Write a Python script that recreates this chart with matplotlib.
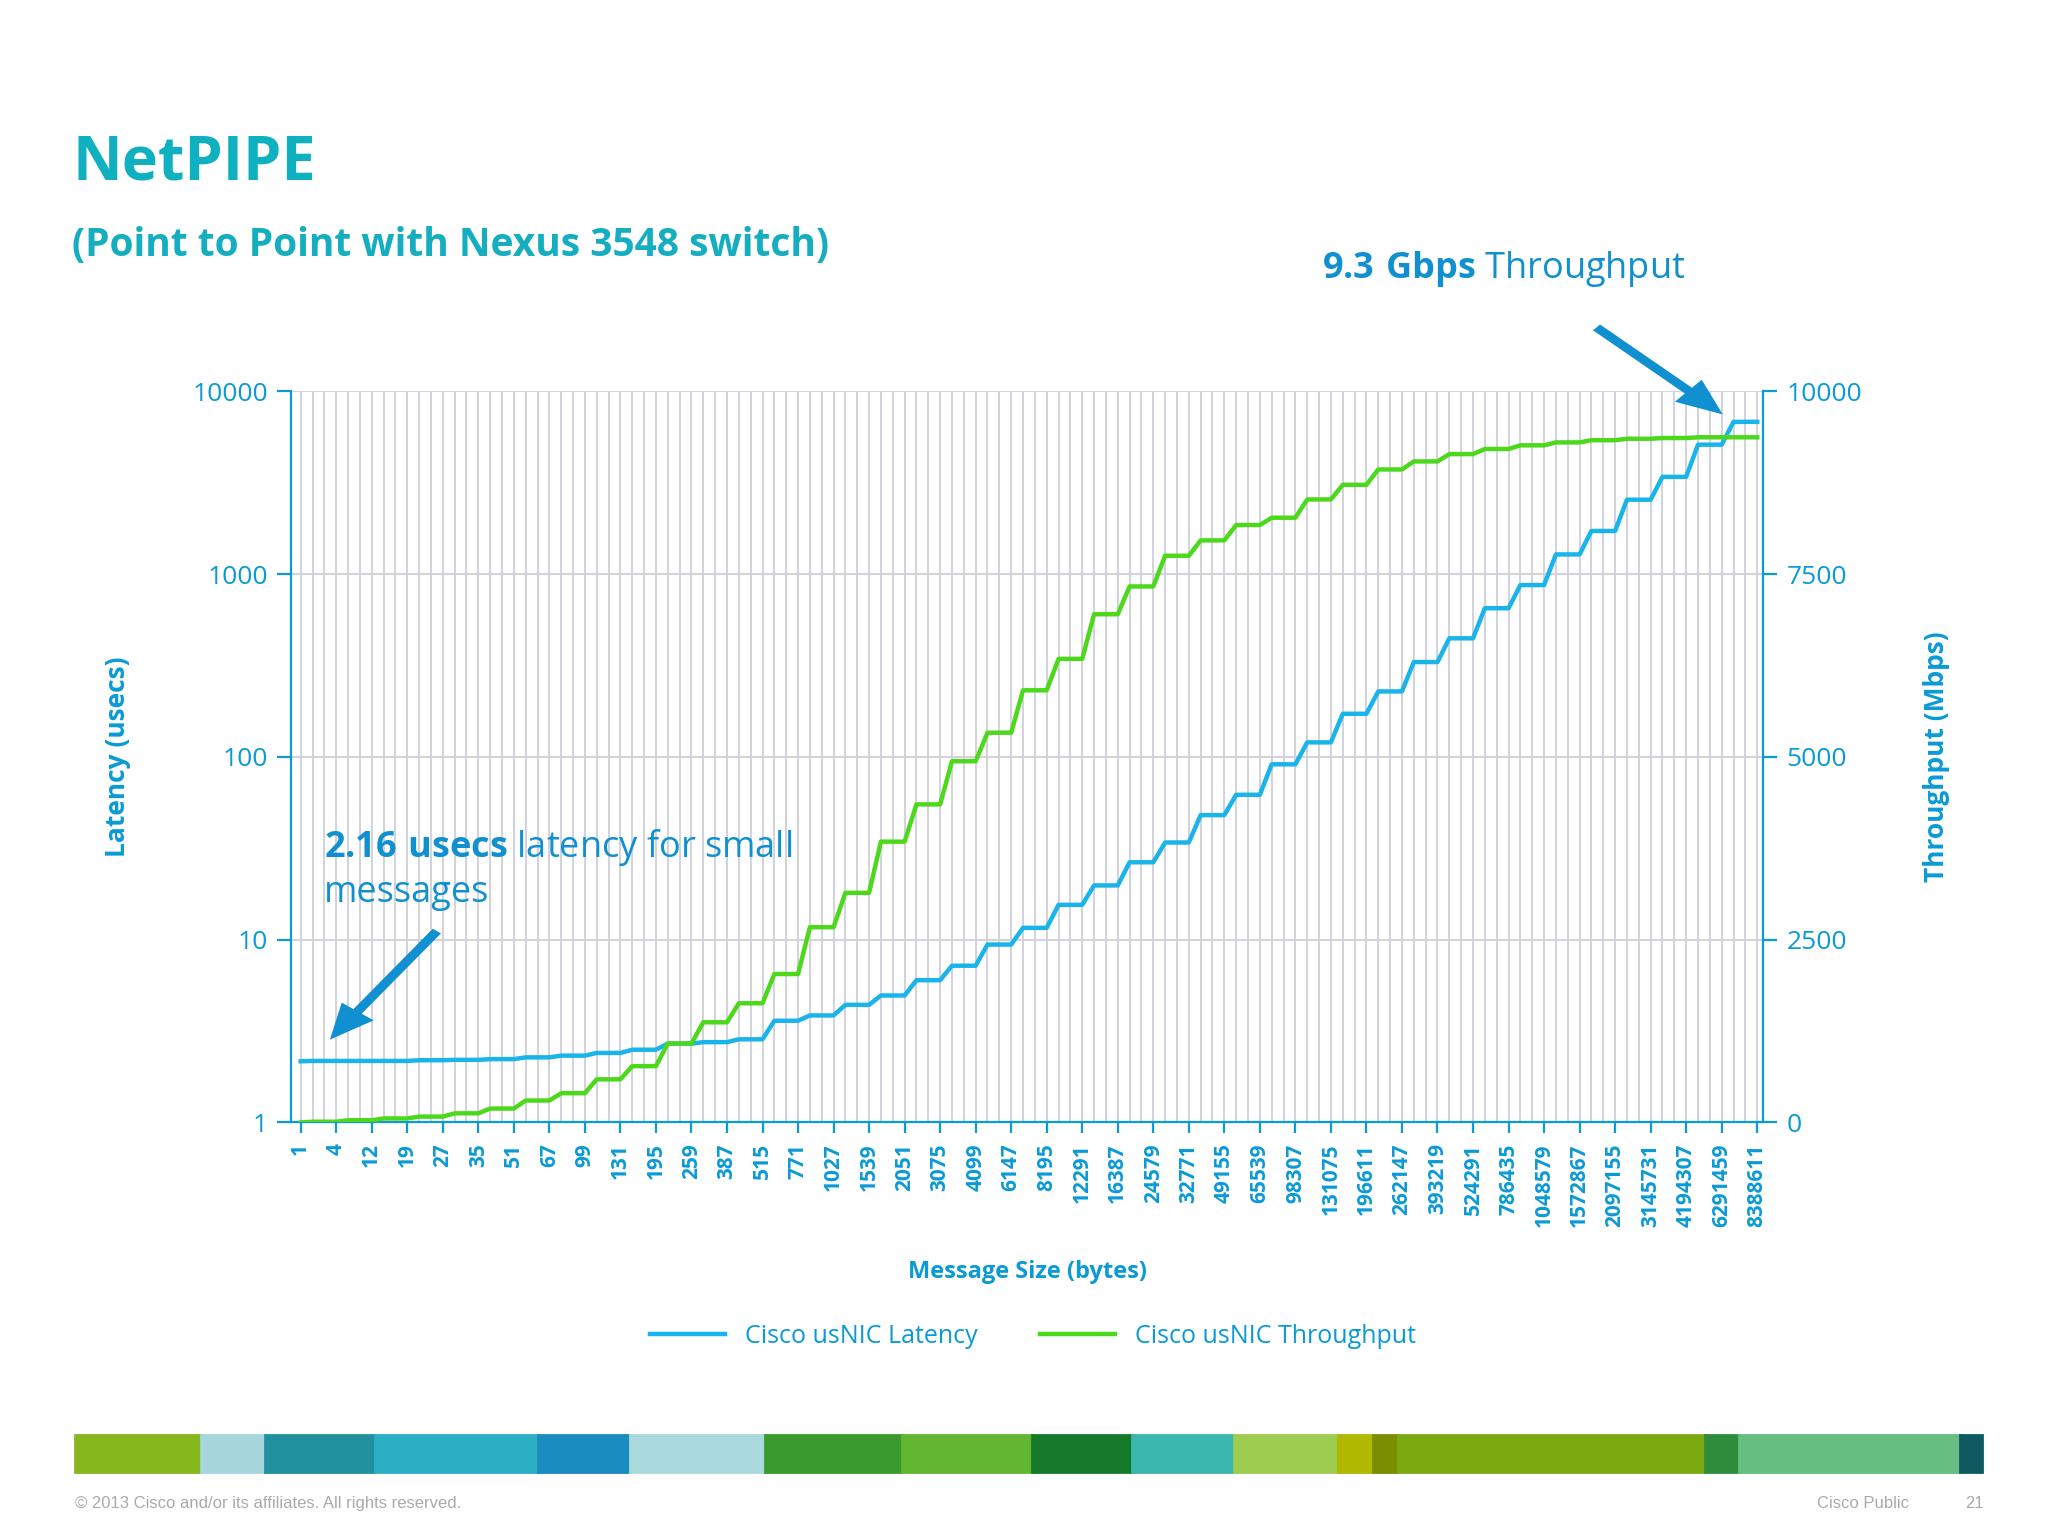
import matplotlib
matplotlib.use("Agg")
import matplotlib.pyplot as plt
import numpy as np
from matplotlib.patches import Rectangle

plt.rcParams['font.family'] = ['Open Sans', 'DejaVu Sans']
plt.rcParams['mathtext.fontset'] = 'custom'
plt.rcParams['mathtext.bf'] = 'Open Sans:bold'
plt.rcParams['mathtext.rm'] = 'Open Sans'

labels = ["1","4","12","19","27","35","51","67","99","131","195","259","387","515","771","1027",
          "1539","2051","3075","4099","6147","8195","12291","16387","24579","32771","49155","65539",
          "98307","131075","196611","262147","393219","524291","786435","1048579","1572867",
          "2097155","3145731","4194307","6291459","8388611"]
latency = [2.16,2.17,2.17,2.17,2.19,2.2,2.22,2.27,2.32,2.4,2.5,2.7,2.75,2.85,3.6,3.85,4.4,4.95,
           6.0,7.2,9.4,11.6,15.5,19.8,26.5,34,48,62,91,120,172,228,330,445,650,870,1280,1720,
           2550,3400,5100,6800]
throughput = [0,10,30,55,80,125,190,300,400,590,770,1080,1370,1630,2030,2670,3140,3840,4350,4940,
              5330,5910,6340,6950,7330,7750,7960,8170,8270,8520,8720,8930,9040,9140,9210,9260,
              9300,9330,9350,9360,9370,9370]

# each label is the last point of a group of 3 message sizes (first group has one)
lat_pts = [latency[0]] + [v for v in latency[1:] for _ in range(3)]
thr_pts = [throughput[0]] + [v for v in throughput[1:] for _ in range(3)]
x = np.arange(len(lat_pts))
label_pos = [0] + [3 * i for i in range(1, len(labels))]

W, H = 2048, 1536
fig = plt.figure(figsize=(W/200, H/200), dpi=200)
def fx(px): return px/1560
def fy(py): return 1 - py/1170

ax = fig.add_axes([fx(222), fy(855), fx(1343)-fx(222), fy(298)-fy(855)])
blue = '#0a9ad6'
ax.set_yscale('log')
ax.set_ylim(1, 10000)
ax.set_xlim(-0.78, 123.5)
for xi in x:
    ax.axvline(xi, color='#d2d2da', lw=0.7, zorder=0)
for yv in [10, 100, 1000, 10000]:
    ax.axhline(yv, color='#d2d2da', lw=0.7, zorder=0)
ax.plot(x, lat_pts, color='#19b4ea', lw=1.6, label='Cisco usNIC Latency', zorder=3)
ax.set_yticks([1, 10, 100, 1000, 10000])
ax.set_yticklabels(['1', '10', '100', '1000', '10000'])
ax.minorticks_off()
ax.set_xticks(label_pos)
ax.set_xticklabels(labels, rotation=90, fontsize=7.5, fontweight='bold', color=blue)
ax.tick_params(axis='y', colors=blue, labelsize=9.5, length=5)
ax.tick_params(axis='x', colors=blue, length=4)
for sp in ['top', 'right']:
    ax.spines[sp].set_visible(False)
ax.spines['left'].set_color(blue)
ax.spines['bottom'].set_color(blue)
ax.set_ylabel('Latency (usecs)', color=blue, fontsize=9.5, fontweight='bold', labelpad=22)
ax.set_xlabel('Message Size (bytes)', color=blue, fontsize=8.5, fontweight='bold', labelpad=12)

ax2 = ax.twinx()
ax2.set_ylim(0, 10000)
ax2.plot(x, thr_pts, color='#4cd91c', lw=1.6, label='Cisco usNIC Throughput', zorder=3)
ax2.set_yticks([0, 2500, 5000, 7500, 10000])
ax2.tick_params(axis='y', colors=blue, labelsize=9.5, length=5)
for sp in ['top', 'left', 'bottom']:
    ax2.spines[sp].set_visible(False)
ax2.spines['right'].set_color(blue)
ax2.set_ylabel('Throughput (Mbps)', color=blue, fontsize=9.5, fontweight='bold', labelpad=22)

h1, l1 = ax.get_legend_handles_labels()
h2, l2 = ax2.get_legend_handles_labels()
fig.legend(h1 + h2, l1 + l2, loc='center', bbox_to_anchor=(fx(787), fy(1018)), ncol=2,
           frameon=False, fontsize=9, labelcolor=blue, handlelength=3, columnspacing=2.5)

fig.text(fx(55), fy(125), 'NetPIPE', fontsize=22, fontweight='bold', color='#0fb0c0', va='center')
fig.text(fx(55), fy(187), '(Point to Point with Nexus 3548 switch)', fontsize=14, fontweight='bold',
         color='#14aec0', va='center')
fig.text(fx(1007), fy(205), r'$\bf{9.3\ Gbps}$ Throughput', fontsize=13, color='#1090d0', va='center')
fig.text(fx(247), fy(662), r'$\bf{2.16\ usecs}$ latency for small' + '\nmessages', fontsize=13,
         color='#1090d0', va='center', linespacing=1.25)

fig.patches.append(matplotlib.patches.FancyArrow(fx(1217), fy(250), fx(1310)-fx(1217), fy(314)-fy(250),
                   width=0.0035, head_width=0.017, head_length=0.02, length_includes_head=True,
                   color='#1090d0', transform=fig.transFigure))
fig.patches.append(matplotlib.patches.FancyArrow(fx(332), fy(710), fx(253)-fx(332), fy(790)-fy(710),
                   width=0.0035, head_width=0.017, head_length=0.02, length_includes_head=True,
                   color='#1090d0', transform=fig.transFigure))

segs = [(57,'#86b81e'),(153,'#a6d6dc'),(202,'#22919e'),(286,'#2aafc4'),(410,'#1a8cc0'),
        (480,'#a9d8dd'),(583,'#3a9a2e'),(687,'#62b632'),(786,'#147a2a'),(862,'#3ab8b0'),
        (940,'#9ccc50'),(1019,'#b0b800'),(1046,'#7a8e00'),(1065,'#7aaa10'),(1299,'#2e8c3c'),
        (1325,'#66be80'),(1493,'#0e5a60'),(1510,None)]
for (a, c), (b, _) in zip(segs[:-1], segs[1:]):
    fig.patches.append(Rectangle((fx(a), fy(1121)), fx(b)-fx(a), fy(1093)-fy(1121),
                                 color=c, transform=fig.transFigure))
fig.text(fx(57), fy(1145), '© 2013 Cisco and/or its affiliates. All rights reserved.', fontsize=6,
         color='#aaaaaa', va='center', family=['Liberation Sans'])
fig.text(fx(1384), fy(1145), 'Cisco Public', fontsize=6, color='#aaaaaa', va='center', family=['Liberation Sans'])
fig.text(fx(1497), fy(1145), '21', fontsize=6, color='#aaaaaa', va='center', family=['Liberation Sans'])

fig.savefig('out.png', dpi=200)
